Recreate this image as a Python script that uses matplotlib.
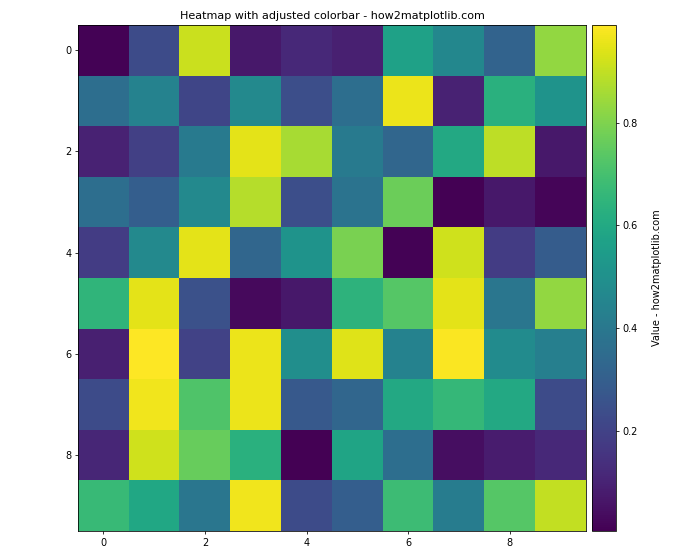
import numpy as np
import matplotlib
matplotlib.use("Agg")
import matplotlib.pyplot as plt

# cell values (rows top to bottom)
row0 = [0.01, 0.23, 0.91, 0.07, 0.12, 0.09, 0.57, 0.46, 0.32, 0.83]
row1 = [0.36, 0.44, 0.21, 0.47, 0.24, 0.36, 0.96, 0.10, 0.63, 0.51]
row2 = [0.10, 0.19, 0.41, 0.95, 0.86, 0.41, 0.33, 0.60, 0.89, 0.07]
row3 = [0.36, 0.30, 0.47, 0.88, 0.24, 0.38, 0.77, 0.005, 0.07, 0.02]
row4 = [0.18, 0.47, 0.95, 0.33, 0.51, 0.79, 0.01, 0.92, 0.18, 0.29]
row5 = [0.65, 0.95, 0.25, 0.03, 0.07, 0.64, 0.73, 0.95, 0.39, 0.83]
row6 = [0.09, 0.99, 0.20, 0.96, 0.49, 0.94, 0.44, 0.985, 0.48, 0.43]
row7 = [0.23, 0.97, 0.72, 0.96, 0.28, 0.33, 0.60, 0.66, 0.60, 0.23]
row8 = [0.11, 0.92, 0.76, 0.63, 0.005, 0.58, 0.36, 0.04, 0.08, 0.12]
row9 = [0.67, 0.59, 0.39, 0.97, 0.23, 0.30, 0.68, 0.42, 0.73, 0.90]
data = np.array([row0, row1, row2, row3, row4, row5, row6, row7, row8, row9])

W, H = 700, 560
fig = plt.figure(figsize=(10, 8), dpi=70)
ax = fig.add_axes([78 / W, 29 / H, 508 / W, 506 / H])
cax = fig.add_axes([592 / W, 29 / H, 24 / W, 506 / H])

im = ax.imshow(data, cmap="viridis", aspect="auto")
ax.set_title("Heatmap with adjusted colorbar - how2matplotlib.com", fontsize=11.5)

cbar = fig.colorbar(im, cax=cax)
cbar.set_label("Value - how2matplotlib.com", labelpad=14)

fig.savefig("out.png", dpi=70)
